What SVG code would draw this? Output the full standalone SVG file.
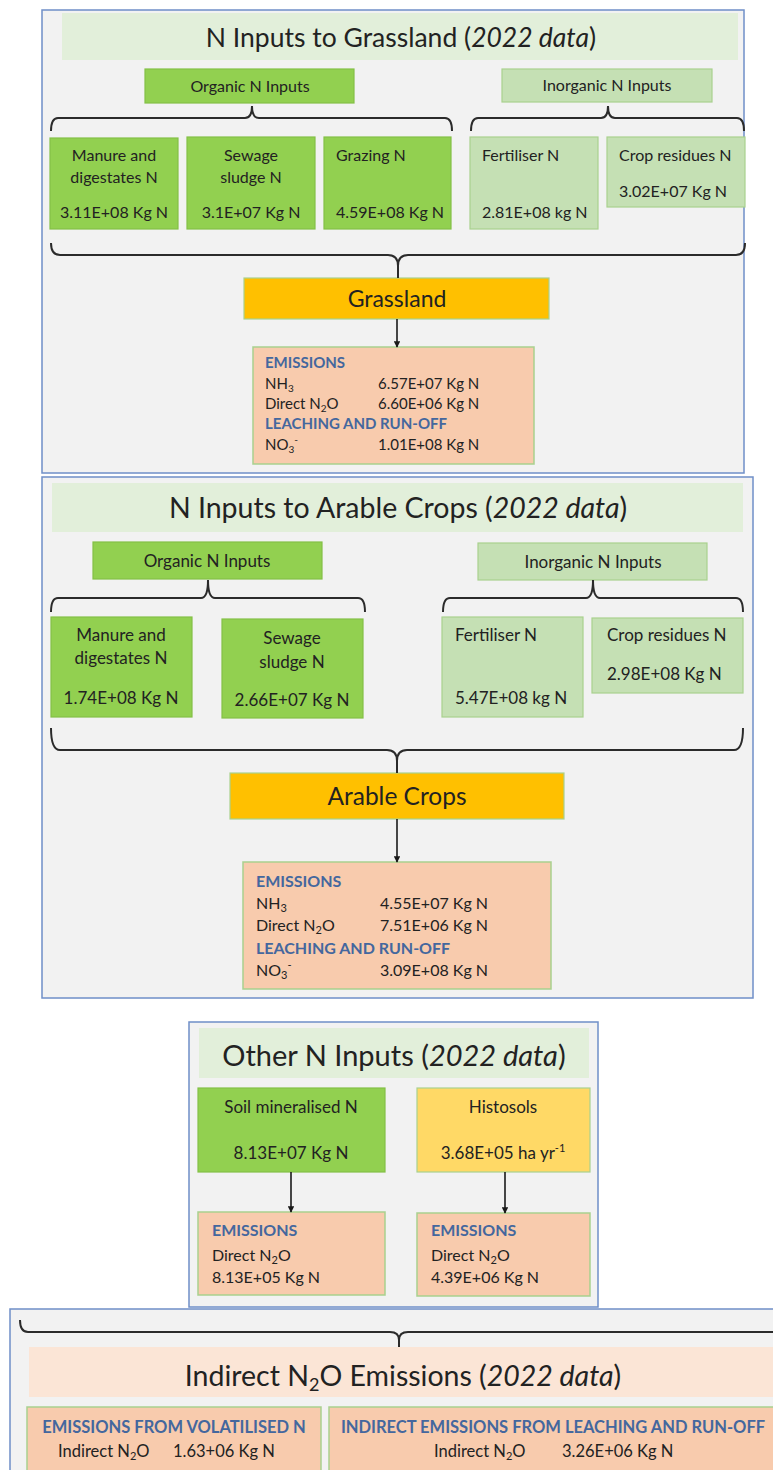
<svg xmlns="http://www.w3.org/2000/svg" width="773" height="1470" viewBox="0 0 773 1470">
<defs>
<style>
text{font-family:Lato,"Liberation Sans",sans-serif;fill:#222222}
.panel{fill:#f2f2f2;stroke:#6f8fc8;stroke-width:1.5}
.band{fill:#e2efda}
.bandp{fill:#fbe5d6}
.dg{fill:#92d050;stroke:#84c046;stroke-width:1.2}
.lg{fill:#c5e0b4;stroke:#a9d18e;stroke-width:1.2}
.og{fill:#ffc000;stroke:#a9d18e;stroke-width:1.2}
.yl{fill:#ffd966;stroke:#a9d18e;stroke-width:1.2}
.pe{fill:#f8cbad;stroke:#a9d18e;stroke-width:1.5}
.t15{font-size:15px}
.t16{font-size:16px}
.t17{font-size:17px}
.c{text-anchor:middle}
.em{fill:#44679e;font-weight:bold}
.br{fill:none;stroke:#2b2b2b;stroke-width:2}
.ar{fill:none;stroke:#1a1a1a;stroke-width:1.6;marker-end:url(#ah)}
</style>
<marker id="ah" viewBox="0 0 10 10" refX="9" refY="5" markerWidth="4" markerHeight="4" orient="auto">
<path d="M0,0L10,5L0,10z" fill="#1a1a1a"/>
</marker>
</defs>
<rect width="773" height="1470" fill="#ffffff"/>

<!-- Panel 1 -->
<g id="panel-grassland">
<rect class="panel" x="42" y="10" width="702" height="463"/>
<rect class="band" x="62" y="13" width="676" height="47"/>
<text class="c" font-size="26.5" x="401" y="47">N Inputs to Grassland (<tspan font-style="italic">2022 data</tspan>)</text>
</g>
<g id="g-organic"><rect class="dg" x="145" y="69" width="209" height="34"/><text class="t16 c" x="250" y="92">Organic N Inputs</text></g>
<g id="g-inorganic"><rect class="lg" x="502" y="69" width="210" height="33"/><text class="t16 c" x="607" y="91">Inorganic N Inputs</text></g>
<g id="g-manure"><rect class="dg" x="50" y="138" width="128" height="91"/>
<text class="t16 c" x="114" y="161">Manure and</text><text class="t16 c" x="114" y="183">digestates N</text><text class="t16 c" x="114" y="218">3.11E+08 Kg N</text></g>
<g id="g-sewage"><rect class="dg" x="187" y="137" width="128" height="92"/>
<text class="t16 c" x="251" y="161">Sewage</text><text class="t16 c" x="251" y="183">sludge N</text><text class="t16 c" x="251" y="218">3.1E+07 Kg N</text></g>
<g id="g-grazing"><rect class="dg" x="324" y="137" width="127" height="92"/>
<text class="t16" x="336" y="161">Grazing N</text><text class="t16" x="336" y="218">4.59E+08 Kg N</text></g>
<g id="g-fertiliser"><rect class="lg" x="470" y="137" width="128" height="92"/>
<text class="t16" x="482" y="161">Fertiliser N</text><text class="t16" x="482" y="218">2.81E+08 kg N</text></g>
<g id="g-cropres"><rect class="lg" x="607" y="137" width="138" height="70"/>
<text class="t16" x="619" y="161">Crop residues N</text><text class="t16" x="619" y="197">3.02E+07 Kg N</text></g>
<g id="g-grassland"><rect class="og" x="244" y="278" width="305" height="41"/><text class="c" font-size="23" x="397" y="307">Grassland</text></g>
<g id="g-emissions"><rect class="pe" x="253" y="347" width="281" height="117"/>
<text class="t15 em" x="265" y="368">EMISSIONS</text>
<text class="t15" x="265" y="389">NH<tspan font-size="10" dy="3">3</tspan></text><text class="t15" x="378" y="389">6.57E+07 Kg N</text>
<text class="t15" x="265" y="409">Direct N<tspan font-size="10" dy="3">2</tspan><tspan dy="-3">O</tspan></text><text class="t15" x="378" y="409">6.60E+06 Kg N</text>
<text class="t15 em" x="265" y="429">LEACHING AND RUN-OFF</text>
<text class="t15" x="265" y="450">NO<tspan font-size="10" dy="3">3</tspan><tspan font-size="10" dy="-10">-</tspan></text><text class="t15" x="378" y="450">1.01E+08 Kg N</text>
</g>

<!-- Panel 2 -->
<g id="panel-arable">
<rect class="panel" x="42" y="477" width="711" height="521"/>
<rect class="band" x="52" y="483" width="691" height="49"/>
<text class="c" font-size="28.5" x="398" y="518">N Inputs to Arable Crops (<tspan font-style="italic">2022 data</tspan>)</text>
</g>
<g id="a-organic"><rect class="dg" x="93" y="542" width="229" height="37"/><text class="t17 c" x="207" y="567">Organic N Inputs</text></g>
<g id="a-inorganic"><rect class="lg" x="478" y="543" width="229" height="37"/><text class="t17 c" x="593" y="568">Inorganic N Inputs</text></g>
<g id="a-manure"><rect class="dg" x="51" y="617" width="141" height="100"/>
<text class="t17 c" x="121" y="641">Manure and</text><text class="t17 c" x="121" y="664">digestates N</text><text class="t17 c" x="121" y="704">1.74E+08 Kg N</text></g>
<g id="a-sewage"><rect class="dg" x="222" y="619" width="141" height="99"/>
<text class="t17 c" x="292" y="644">Sewage</text><text class="t17 c" x="292" y="668">sludge N</text><text class="t17 c" x="292" y="706">2.66E+07 Kg N</text></g>
<g id="a-fertiliser"><rect class="lg" x="442" y="617" width="141" height="100"/>
<text class="t17" x="455" y="641">Fertiliser N</text><text class="t17" x="455" y="704">5.47E+08 kg N</text></g>
<g id="a-cropres"><rect class="lg" x="592" y="618" width="151" height="75"/>
<text class="t17" x="607" y="641">Crop residues N</text><text class="t17" x="607" y="680">2.98E+08 Kg N</text></g>
<g id="a-arable"><rect class="og" x="230" y="773" width="334" height="46"/><text class="c" font-size="24.5" x="397" y="805">Arable Crops</text></g>
<g id="a-emissions"><rect class="pe" x="243" y="862" width="308" height="127"/>
<text class="t16 em" x="256" y="887">EMISSIONS</text>
<text class="t16" x="256" y="909">NH<tspan font-size="11" dy="3">3</tspan></text><text class="t16" x="380" y="909">4.55E+07 Kg N</text>
<text class="t16" x="256" y="931">Direct N<tspan font-size="11" dy="3">2</tspan><tspan dy="-3">O</tspan></text><text class="t16" x="380" y="931">7.51E+06 Kg N</text>
<text class="t16 em" x="256" y="954">LEACHING AND RUN-OFF</text>
<text class="t16" x="256" y="976">NO<tspan font-size="11" dy="3">3</tspan><tspan font-size="11" dy="-10">-</tspan></text><text class="t16" x="380" y="976">3.09E+08 Kg N</text>
</g>

<!-- Panel 3 -->
<g id="panel-other">
<rect class="panel" x="189" y="1022" width="409" height="285"/>
<rect class="band" x="199" y="1028" width="390" height="50"/>
<text class="c" font-size="29" x="394" y="1066">Other N Inputs (<tspan font-style="italic">2022 data</tspan>)</text>
</g>
<g id="o-soil"><rect class="dg" x="198" y="1088" width="187" height="84"/>
<text class="t17 c" x="291" y="1113">Soil mineralised N</text><text class="t17 c" x="291" y="1159">8.13E+07 Kg N</text></g>
<g id="o-histosols"><rect class="yl" x="417" y="1088" width="173" height="84"/>
<text class="t17 c" x="503" y="1113">Histosols</text><text class="t17 c" x="503" y="1159">3.68E+05 ha yr<tspan font-size="11" dy="-7">-1</tspan></text></g>
<g id="o-em1"><rect class="pe" x="198" y="1212" width="187" height="83"/>
<text class="t16 em" x="212" y="1236">EMISSIONS</text>
<text class="t16" x="212" y="1261">Direct N<tspan font-size="11" dy="3">2</tspan><tspan dy="-3">O</tspan></text>
<text class="t16" x="212" y="1283">8.13E+05 Kg N</text></g>
<g id="o-em2"><rect class="pe" x="417" y="1213" width="173" height="83"/>
<text class="t16 em" x="431" y="1236">EMISSIONS</text>
<text class="t16" x="431" y="1261">Direct N<tspan font-size="11" dy="3">2</tspan><tspan dy="-3">O</tspan></text>
<text class="t16" x="431" y="1283">4.39E+06 Kg N</text></g>

<!-- Panel 4 -->
<g id="panel-indirect">
<rect class="panel" x="10" y="1309" width="775" height="175"/>
<rect class="bandp" x="29" y="1347" width="760" height="50"/>
<text class="c" font-size="28.5" x="403" y="1386">Indirect N<tspan font-size="18" dy="5">2</tspan><tspan dy="-5">O Emissions (</tspan><tspan font-style="italic">2022 data</tspan>)</text>
</g>
<g id="i-vol"><rect class="pe" x="27" y="1407" width="294" height="80"/>
<text class="em c" font-size="16.5" x="174" y="1433">EMISSIONS FROM VOLATILISED N</text>
<text font-size="16.5" x="58" y="1457">Indirect N<tspan font-size="11" dy="3">2</tspan><tspan dy="-3">O</tspan></text><text font-size="16.5" x="173" y="1457">1.63+06 Kg N</text></g>
<g id="i-leach"><rect class="pe" x="329" y="1407" width="460" height="80"/>
<text class="em c" font-size="16.5" x="553" y="1433">INDIRECT EMISSIONS FROM LEACHING AND RUN-OFF</text>
<text font-size="16.5" x="434" y="1457">Indirect N<tspan font-size="11" dy="3">2</tspan><tspan dy="-3">O</tspan></text><text font-size="16.5" x="562" y="1457">3.26E+06 Kg N</text></g>

<!-- Connectors -->
<g id="connectors">
<path class="br" d="M51,131Q51,118 58,118H245Q252,118 252,106Q252,118 259,118H445Q452,118 452,131"/>
<path class="br" d="M471,131Q471,118 478,118H601Q608,118 608,106Q608,118 615,118H737Q744,118 744,131"/>
<path class="br" d="M51,243Q51,255 60,255H388Q398,255 398,266V278M398,266Q398,255 408,255H736Q745,255 745,243"/>
<line class="ar" x1="397" y1="319" x2="397" y2="347"/>
<path class="br" d="M51,612Q51,598 58,598H201Q208,598 208,580Q208,598 215,598H358Q365,598 365,612"/>
<path class="br" d="M443,612Q443,598 450,598H586Q593,598 593,580Q593,598 600,598H736Q743,598 743,612"/>
<path class="br" d="M51,728Q51,750 60,750H387Q397,750 397,761V773M397,761Q397,750 407,750H734Q743,750 743,728"/>
<line class="ar" x1="397" y1="819" x2="397" y2="862"/>
<line class="ar" x1="291" y1="1172" x2="291" y2="1212"/>
<line class="ar" x1="505" y1="1172" x2="505" y2="1213"/>
<path class="br" d="M20,1320Q20,1332 28,1332H390Q399,1332 399,1340V1347M399,1340Q399,1332 408,1332H780"/>
</g>
</svg>
